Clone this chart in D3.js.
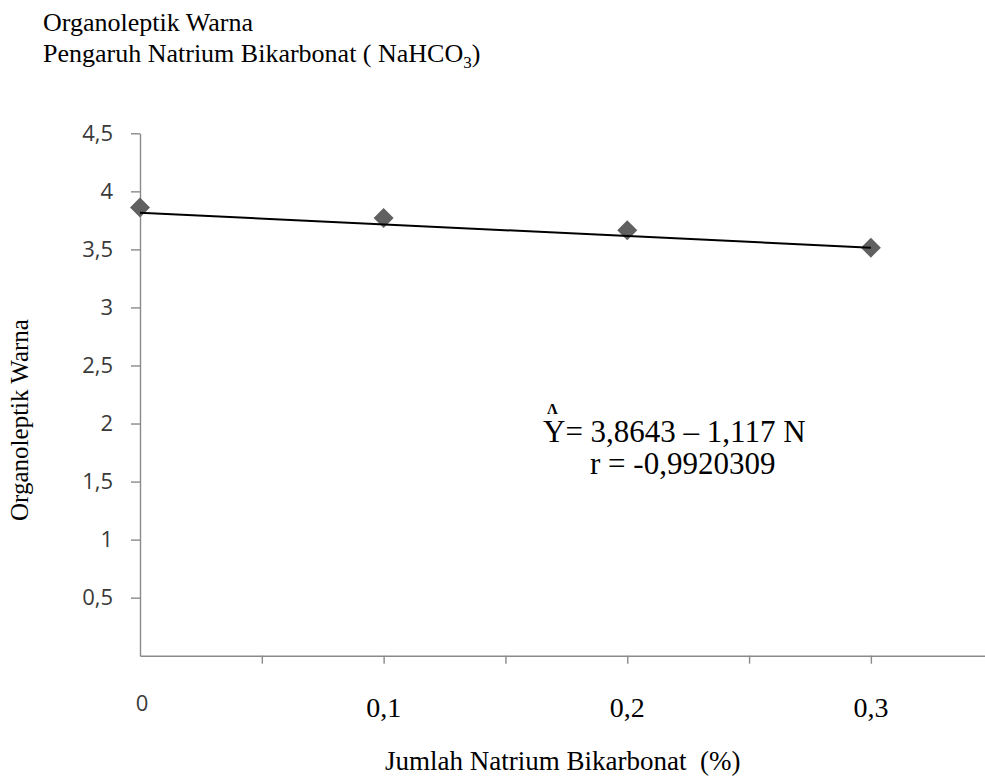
<!DOCTYPE html>
<html>
<head>
<meta charset="utf-8">
<script src="https://cdn.jsdelivr.net/npm/d3@7"></script>
<style>
  body { margin: 0; background: #fff; }
  svg { display: block; }
  .serif { font-family: "Liberation Serif", "Times New Roman", serif; fill: #000; }
  .sans { font-family: "Open Sans", "DejaVu Sans", sans-serif; fill: #3a3a3a; }
</style>
</head>
<body>
<div id="chart"></div>
<script>
// data
const natrium = [0, 0, 0.1, 0.2, 0.3];          // % NaHCO3
const warna = [0, 3.86, 3.77, 3.665, 3.515];    // organoleptik warna
const trendX = [0, 0.3];
const trendY = [3.815, 3.515];
const yTicks = [0.5, 1, 1.5, 2, 2.5, 3, 3.5, 4, 4.5];
const yTickLabels = ["0,5", "1", "1,5", "2", "2,5", "3", "3,5", "4", "4,5"];
const xTicks = [0.05, 0.1, 0.15, 0.2, 0.25, 0.3];
const xLabelVals = [0.1, 0.2, 0.3];
const xLabels = ["0,1", "0,2", "0,3"];

const W = 985, H = 778;
const svg = d3.select('#chart').append('svg')
  .attr('width', W)
  .attr('height', H);

const x = d3.scaleLinear().domain([0, 0.35]).range([140, 992.7]);
const y = d3.scaleLinear().domain([0, 4.5]).range([655.7, 133.3]);

const axisColor = '#8a8a8a';

// titles
svg.append('text').attr('class', 'serif')
  .attr('x', 43).attr('y', 31)
  .style('font-size', '26px')
  .text('Organoleptik Warna');

const t2 = svg.append('text').attr('class', 'serif')
  .attr('x', 43).attr('y', 62)
  .style('font-size', '26px');
t2.append('tspan').text('Pengaruh Natrium Bikarbonat ( NaHCO');
t2.append('tspan').attr('dy', 6).style('font-size', '17px').text('3');
t2.append('tspan').attr('dy', -6).text(')');

// y axis
const yAxis = svg.append('g')
  .attr('transform', 'translate(' + x(0) + ',0)')
  .call(d3.axisLeft(y)
    .tickValues(yTicks)
    .tickSize(9)
    .tickSizeOuter(0)
    .tickPadding(18)
    .tickFormat((d, i) => yTickLabels[i]));
yAxis.select('.domain').attr('stroke', axisColor).attr('stroke-width', 1.4);
yAxis.selectAll('.tick line').attr('stroke', axisColor).attr('stroke-width', 1.4);
yAxis.selectAll('.tick text')
  .attr('class', 'sans')
  .style('font-size', '22px')
  .attr('fill', '#3a3a3a');

// x axis
const xAxis = svg.append('g')
  .attr('transform', 'translate(0,' + y(0) + ')')
  .call(d3.axisBottom(x)
    .tickValues(xTicks)
    .tickSize(8)
    .tickSizeOuter(0)
    .tickFormat(''));
xAxis.select('.domain').attr('stroke', axisColor).attr('stroke-width', 1.4);
xAxis.selectAll('.tick line').attr('stroke', axisColor).attr('stroke-width', 1.4);

// x labels: "0" in the chart font, the rest typed over in serif
svg.append('text').attr('class', 'sans')
  .attr('x', x(0) + 2).attr('y', 711)
  .attr('text-anchor', 'middle')
  .style('font-size', '22px')
  .text('0');

svg.append('g').selectAll('text')
  .data(xLabelVals)
  .join('text')
  .attr('class', 'serif')
  .attr('x', d => x(d))
  .attr('y', 717)
  .attr('text-anchor', 'middle')
  .style('font-size', '28px')
  .text((d, i) => xLabels[i]);

// axis titles
svg.append('text').attr('class', 'serif')
  .attr('x', 385).attr('y', 770)
  .style('font-size', '27px')
  .text('Jumlah Natrium Bikarbonat\u00a0\u00a0(%)');

svg.append('text').attr('class', 'serif')
  .attr('transform', 'translate(28,420) rotate(-90)')
  .attr('text-anchor', 'middle')
  .style('font-size', '25px')
  .text('Organoleptik Warna');

// markers (the one sitting on the origin is cut by the axis)
svg.append('clipPath').attr('id', 'plotclip')
  .append('rect')
  .attr('x', x(0)).attr('y', 0)
  .attr('width', W).attr('height', H);

const points = natrium.map((n, i) => ({ n: n, v: warna[i] }));
const diamond = d3.symbol(d3.symbolSquare, 200);

svg.append('g').selectAll('path')
  .data(points)
  .join('path')
  .attr('d', diamond)
  .attr('transform', d => 'translate(' + x(d.n) + ',' + y(d.v) + ') rotate(45)')
  .attr('fill', '#606060')
  .attr('clip-path', d => d.v === 0 ? 'url(#plotclip)' : null);

// trend line
const line = d3.line().x(d => x(d[0])).y(d => y(d[1]));
svg.append('path')
  .datum(trendX.map((t, i) => [t, trendY[i]]))
  .attr('d', line)
  .attr('fill', 'none')
  .attr('stroke', '#000')
  .attr('stroke-width', 2);

// regression text
svg.append('text').attr('class', 'serif')
  .attr('x', 547).attr('y', 414)
  .style('font-size', '15px')
  .style('font-weight', 'bold')
  .text('\u039B');

svg.append('text').attr('class', 'serif')
  .attr('x', 543).attr('y', 442)
  .style('font-size', '31px')
  .text('Y= 3,8643 \u2013 1,117 N');

svg.append('text').attr('class', 'serif')
  .attr('x', 590).attr('y', 474)
  .style('font-size', '31px')
  .text('r = -0,9920309');
</script>
</body>
</html>
